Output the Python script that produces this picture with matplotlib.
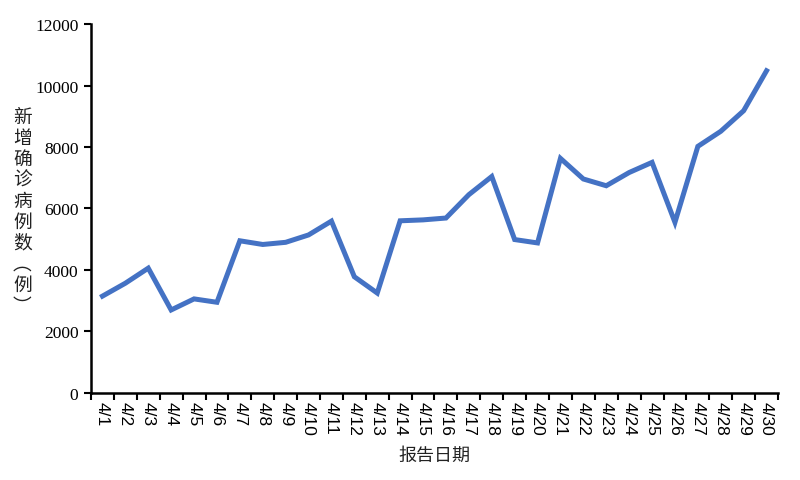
import numpy as np
import matplotlib.pyplot as plt

dates = ["4/%d" % d for d in range(1, 31)]
cases = [3150, 3570, 4060, 2700, 3060, 2950, 4950, 4830, 4900, 5140,
         5590, 3780, 3250, 5600, 5630, 5690, 6450, 7040, 4990, 4880,
         7630, 6960, 6740, 7170, 7500, 5550, 8020, 8510, 9180, 10480]
yticks = [0, 2000, 4000, 6000, 8000, 10000, 12000]

serif = "Liberation Serif"
cjk = ["Noto Sans CJK SC", "DejaVu Sans"]

fig = plt.figure(figsize=(8, 4.81), dpi=100)
ax = fig.add_axes([0.11375, 0.1809, 0.85875, 0.7671])

x = np.arange(len(dates))
ax.plot(x, cases, color="#4472C4", lw=3.6, solid_joinstyle="miter")

ax.set_xlim(-0.5, len(dates) - 0.5)
ax.set_ylim(0, 12000)
ax.set_yticks(yticks)
ax.set_yticklabels([str(v) for v in yticks], fontfamily=serif, fontsize=12.5)

# ticks at category boundaries, labels at centres
ax.set_xticks(np.arange(-0.5, len(dates), 1))
ax.set_xticklabels([])
ax.set_xticks(x, minor=True)
ax.set_xticklabels(dates, minor=True, rotation=270, fontfamily="Liberation Sans",
                   fontsize=12.5, va="top", ha="center")
ax.tick_params(axis="x", which="minor", length=0, pad=6)
ax.tick_params(axis="x", which="major", length=5, width=1.5, direction="out")
ax.tick_params(axis="y", length=5, width=1.5, direction="out", pad=4)

for s in ["top", "right"]:
    ax.spines[s].set_visible(False)
for s in ["left", "bottom"]:
    ax.spines[s].set_linewidth(1.8)

fig.text(0.5425, 0.052, "报告日期", family=cjk, fontsize=13,
         ha="center", va="center", color="#222222")
ylab = "\n".join("新增确诊病例数︵例︶")
fig.text(0.028, 0.56, ylab, family=cjk, fontsize=13.5, ha="center",
         va="center", linespacing=1.0, color="#222222")

fig.savefig("out.png", dpi=100)
